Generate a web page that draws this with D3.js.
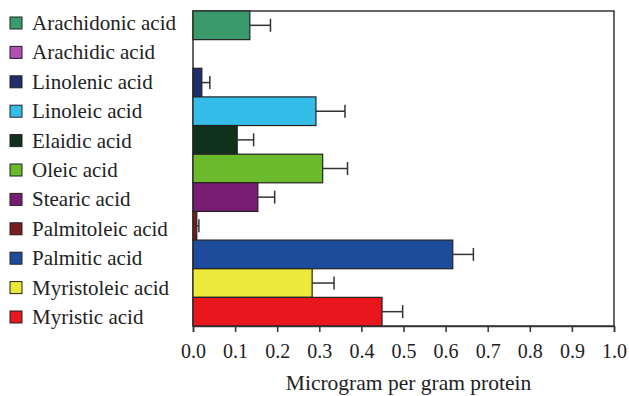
<!DOCTYPE html>
<html>
<head>
<meta charset="utf-8">
<script src="https://cdn.jsdelivr.net/npm/d3@7"></script>
<style>
  html, body { margin: 0; padding: 0; background: #fff; }
</style>
</head>
<body>
<div id="chart"></div>
<script>
// acids, top to bottom as drawn
const acids = [
  'Arachidonic acid', 'Arachidic acid', 'Linolenic acid', 'Linoleic acid',
  'Elaidic acid', 'Oleic acid', 'Stearic acid', 'Palmitoleic acid',
  'Palmitic acid', 'Myristoleic acid', 'Myristic acid',
];
const means = [0.135, 0, 0.021, 0.292, 0.105, 0.308, 0.154, 0.009, 0.617, 0.283, 0.449];
const errors = [0.049, 0, 0.019, 0.069, 0.039, 0.059, 0.040, 0.005, 0.049, 0.052, 0.049];
const colors = [
  '#3b9a6b', '#b24fb2', '#1f2e6c', '#35bde9', '#10321b', '#6aba2b',
  '#771e74', '#7b1b1b', '#1e4c9c', '#ece93a', '#e8171d',
];
const xTicks = [0, 0.1, 0.2, 0.3, 0.4, 0.5, 0.6, 0.7, 0.8, 0.9, 1.0];

const serif = "'Liberation Serif'";
const W = 629, H = 396;
const margin = {top: 11, right: 15, bottom: 70, left: 193};
const width = W - margin.left - margin.right;
const height = H - margin.top - margin.bottom;

const svg = d3.select('#chart').append('svg')
  .attr('width', W)
  .attr('height', H);

const x = d3.scaleLinear().domain([0, 1]).range([0, width]);
const y = d3.scaleBand().domain(acids).range([0, height]).padding(0);

const g = svg.append('g').attr('transform', `translate(${margin.left},${margin.top})`);

// frame
g.append('rect')
  .attr('width', width)
  .attr('height', height)
  .attr('fill', '#fff')
  .attr('stroke', '#333')
  .attr('stroke-width', 1.5);

const data = acids.map((name, i) => ({name, mean: means[i], err: errors[i], color: colors[i]}));

g.selectAll('.bar')
  .data(data.filter(d => d.mean > 0))
  .enter().append('rect')
    .attr('class', 'bar')
    .attr('x', 0)
    .attr('y', d => y(d.name))
    .attr('width', d => x(d.mean))
    .attr('height', y.bandwidth())
    .attr('fill', d => d.color)
    .attr('stroke', '#222')
    .attr('stroke-width', 1.2);

// error bars
const eb = g.selectAll('.err')
  .data(data.filter(d => d.err > 0))
  .enter().append('g')
    .attr('class', 'err')
    .attr('stroke', '#333')
    .attr('stroke-width', 1.5);

eb.append('line')
  .attr('x1', d => x(d.mean))
  .attr('x2', d => x(d.mean + d.err))
  .attr('y1', d => y(d.name) + y.bandwidth() / 2)
  .attr('y2', d => y(d.name) + y.bandwidth() / 2);

eb.append('line')
  .attr('x1', d => x(d.mean + d.err))
  .attr('x2', d => x(d.mean + d.err))
  .attr('y1', d => y(d.name) + y.bandwidth() / 2 - 6.5)
  .attr('y2', d => y(d.name) + y.bandwidth() / 2 + 6.5);

// x axis
const xAxis = g.append('g')
  .attr('transform', `translate(0,${height})`)
  .call(d3.axisBottom(x).tickValues(xTicks).tickFormat(d3.format('.1f')).tickSize(6).tickPadding(12));
xAxis.attr('font-family', null).attr('font-size', null);
xAxis.select('.domain').attr('stroke', '#333').attr('stroke-width', 1.5);
xAxis.selectAll('.tick line').attr('stroke', '#333').attr('stroke-width', 1.5);
xAxis.selectAll('.tick text')
  .attr('fill', '#222')
  .style('font-family', serif)
  .attr('font-size', 20);

svg.append('text')
  .attr('x', margin.left + width / 2 + 5)
  .attr('y', 390)
  .attr('text-anchor', 'middle')
  .attr('fill', '#222')
  .style('font-family', serif)
  .attr('font-size', 21.5)
  .text('Microgram per gram protein');

// legend
const legend = svg.append('g').attr('transform', 'translate(10,0)');
const ly = d3.scalePoint().domain(acids).range([23, 317]);

const item = legend.selectAll('.legend-item')
  .data(data)
  .enter().append('g')
    .attr('class', 'legend-item')
    .attr('transform', d => `translate(0,${ly(d.name)})`);

item.append('rect')
  .attr('x', 0)
  .attr('y', -6)
  .attr('width', 12)
  .attr('height', 12)
  .attr('fill', d => d.color)
  .attr('stroke', '#222')
  .attr('stroke-width', 1);

item.append('text')
  .attr('x', 22)
  .attr('y', 7)
  .attr('fill', '#222')
  .style('font-family', serif)
  .attr('font-size', 21)
  .text(d => d.name);
</script>
</body>
</html>
